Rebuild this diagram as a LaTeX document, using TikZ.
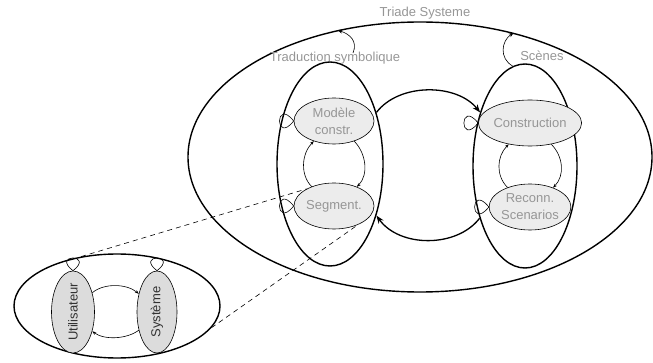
\documentclass[tikz,border=0pt]{standalone}
\usepackage{fontspec}
\usepackage{graphicx}
\setmainfont{Liberation Sans}
\usetikzlibrary{shapes.geometric,arrows.meta}
\definecolor{txtgray}{RGB}{150,150,150}
\definecolor{fillA}{RGB}{236,236,236}
\definecolor{fillB}{RGB}{220,220,220}
\definecolor{txtdark}{RGB}{50,50,50}
\begin{document}
\begin{tikzpicture}[x=1pt,y=-1pt,
  bigell/.style={ellipse, draw, line width=1.4pt, inner sep=0pt},
  sub/.style={ellipse, draw, line width=0.6pt, fill=fillA, inner sep=0pt,
    minimum width=80pt, minimum height=46pt, text=txtgray, align=center,
    font=\fontsize{13}{17}\selectfont},
  actor/.style={ellipse, draw, line width=0.6pt, fill=fillB, inner sep=0pt,
    minimum width=43pt, minimum height=82pt, text=txtdark,
    font=\fontsize{13}{16}\selectfont},
  lbl/.style={text=txtgray, inner sep=0pt, font=\fontsize{13}{16}\selectfont},
  thin/.style={line width=0.6pt},
  thinarr/.style={line width=0.6pt, -{Stealth[length=4pt,width=3pt]}},
  bigarr/.style={line width=1.3pt, -{Stealth[length=8pt,width=6pt]}},
  looparr/.style={line width=0.6pt, -{Stealth[length=5pt,width=4pt]}},
  zoomline/.style={line width=0.6pt, dash pattern=on 5pt off 4pt}
]
\useasboundingbox (0,0) rectangle (653,363);

% outer ellipse
\node[bigell, minimum width=464pt, minimum height=270pt] (T) at (420,157) {};
\node[lbl] (triade) at (425,13) {Triade Systeme};

% tall ellipses
\node[bigell, minimum width=106pt, minimum height=204pt] (L) at (330,164) {};
\node[bigell, minimum width=104pt, minimum height=204pt] (R) at (525,166) {};
\node[lbl] (trad) at (335,58) {Traduction symbolique};
\node[lbl] (scenes) at (542,56) {Scènes};

% inner nodes
\node[sub] (M) at (334,121) {Modèle\\constr.};
\node[sub] (S) at (334,206) {Segment.};
\node[sub] (C) at (530,123) {Construction};
\node[sub] (Rc) at (530,207) {Reconn.\\Scenarios};

% inner cycles
\draw[thinarr] (S.139) .. controls +(-12,-12) and +(-12,12) .. (M.225);
\draw[thinarr] (M.315) .. controls +(12,12) and +(12,-12) .. (S.40);
\draw[thinarr] (Rc.139) .. controls +(-12,-12) and +(-12,12) .. (C.225);
\draw[thinarr] (C.315) .. controls +(12,12) and +(12,-12) .. (Rc.40);

% self loops
\foreach \n in {M,S,C,Rc}{
  \draw[thin] (\n.west) .. controls +(-19,-24) and +(-19,24) .. (\n.west);
}

% big arrows
\draw[bigarr] (L.48) .. controls +(23,-30) and +(-23,-29) .. (R.130);
\draw[bigarr] (R.229) .. controls +(-23,30) and +(23,32) .. (L.312);

% loops to outer ellipse
\coordinate (tradstart) at (353,53);
\coordinate (scstart) at (R.97);
\draw[looparr] (tradstart) .. controls +(5,-12) and +(12,4) .. (T.123.5);
\draw[looparr] (scstart) .. controls +(-14,-8) and +(-12,8) .. (T.53);

% lower-left zoom
\node[bigell, minimum width=206pt, minimum height=104pt] (O) at (117,306) {};
\node[actor] (U) at (73,312) {\rotatebox{90}{Utilisateur}};
\node[actor, minimum width=40pt] (Sy) at (157,312) {\rotatebox{90}{Système}};

\draw[thinarr] (U.45) .. controls +(12,-10) and +(-12,-10) .. (Sy.135);
\draw[thinarr] (Sy.225) .. controls +(-12,9) and +(12,9) .. (U.315);
\draw[thin] (U.north) .. controls +(-22,-17) and +(22,-17) .. (U.north);
\draw[thin] (Sy.north) .. controls +(-22,-17) and +(22,-17) .. (Sy.north);

% zoom lines
\draw[zoomline] (O.126) -- (S.148);
\draw[zoomline] (O.347) -- (S.322);
\end{tikzpicture}
\end{document}
